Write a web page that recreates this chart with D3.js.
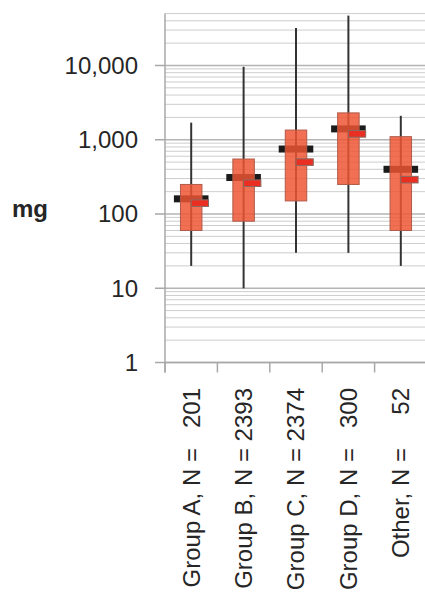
<!DOCTYPE html>
<html>
<head>
<meta charset="utf-8">
<script src="https://cdn.jsdelivr.net/npm/d3@7"></script>
<style>
  html, body { margin: 0; padding: 0; background: #fff; }
  svg { display: block; }
  text { font-family: "Liberation Sans", Arial, sans-serif; fill: #262626; }
</style>
</head>
<body>
<svg id="chart" width="425" height="593"></svg>
<script>
// ---- data ----
const categories = ["Group A", "Group B", "Group C", "Group D", "Other"];
const categoryLabels = ["Group A, N =   201", "Group B, N = 2393", "Group C, N = 2374", "Group D, N =   300", "Other, N =     52"];
const whiskerLow  = [20, 10, 30, 30, 20];
const boxLow      = [60, 80, 150, 250, 60];
const boxHigh     = [250, 550, 1350, 2300, 1100];
const whiskerHigh = [1700, 9600, 32000, 47000, 2100];
const blackMarker = [160, 310, 750, 1400, 400];
const redMarker   = [140, 260, 500, 1200, 290];
const yTickValues = [1, 10, 100, 1000, 10000];
const yTickLabels = ["1", "10", "100", "1,000", "10,000"];
const yAxisTitle = "mg";

// ---- layout ----
const svg = d3.select("#chart");
const plotLeft = 165, plotRight = 427;
const y = d3.scaleLog().domain([1, 50000]).range([362.5, 13.6]);
const x = d3.scaleBand().domain(categories).range([plotLeft, plotRight]).padding(0);
const bw = x.bandwidth();

// gridlines (minor + major)
const gridVals = [];
for (let e = 0; e <= 4; e++) {
  for (let m = 1; m <= 9; m++) {
    const v = m * Math.pow(10, e);
    if (v <= 50000) gridVals.push(v);
  }
}
svg.append("g").selectAll("line").data(gridVals).join("line")
  .attr("x1", plotLeft).attr("x2", plotRight)
  .attr("y1", d => y(d)).attr("y2", d => y(d))
  .attr("stroke", d => yTickValues.includes(d) ? "#b4b4b4" : "#cdcdcd")
  .attr("stroke-width", d => yTickValues.includes(d) ? 1.5 : 1);

// y axis line + major ticks
svg.append("line").attr("x1", plotLeft).attr("x2", plotLeft)
  .attr("y1", y(50000)).attr("y2", y(1) + 10)
  .attr("stroke", "#a8a8a8").attr("stroke-width", 1.5);
svg.append("g").selectAll("line").data(yTickValues).join("line")
  .attr("x1", plotLeft - 10).attr("x2", plotLeft)
  .attr("y1", d => y(d)).attr("y2", d => y(d))
  .attr("stroke", "#a8a8a8").attr("stroke-width", 1.5);
svg.append("g").selectAll("text").data(yTickValues).join("text")
  .attr("x", 138).attr("y", d => y(d)).attr("dy", "0.35em")
  .attr("text-anchor", "end").attr("font-size", 24)
  .text((d, i) => yTickLabels[i]);

// x axis line + ticks
svg.append("line").attr("x1", plotLeft).attr("x2", plotRight)
  .attr("y1", y(1)).attr("y2", y(1))
  .attr("stroke", "#a8a8a8").attr("stroke-width", 1.5);
svg.append("g").selectAll("line").data(categories).join("line")
  .attr("x1", d => x(d)).attr("x2", d => x(d))
  .attr("y1", y(1)).attr("y2", y(1) + 10)
  .attr("stroke", "#a8a8a8").attr("stroke-width", 1.5);

// y axis title
svg.append("text").attr("x", 12).attr("y", 216.5)
  .attr("font-size", 24).attr("font-weight", "bold").text(yAxisTitle);

// ---- boxes ----
const g = svg.append("g").selectAll("g").data(categories).join("g");
const cx = d => x(d) + bw / 2;
// whisker
g.append("line")
  .attr("x1", cx).attr("x2", cx)
  .attr("y1", (d, i) => y(whiskerLow[i])).attr("y2", (d, i) => y(whiskerHigh[i]))
  .attr("stroke", "#333").attr("stroke-width", 2);
// black marker (beneath box)
g.append("rect")
  .attr("x", d => cx(d) - bw * 0.33).attr("width", bw * 0.66)
  .attr("y", (d, i) => y(blackMarker[i]) - 3.5).attr("height", 7)
  .attr("fill", "#1b1b1b");
// box
g.append("rect")
  .attr("x", d => cx(d) - bw * 0.205).attr("width", bw * 0.41)
  .attr("y", (d, i) => y(boxHigh[i]))
  .attr("height", (d, i) => y(boxLow[i]) - y(boxHigh[i]))
  .attr("fill", "#ee5533").attr("fill-opacity", 0.84)
  .attr("stroke", "#b05a48").attr("stroke-width", 1);
// red marker
g.append("rect")
  .attr("x", d => cx(d)).attr("width", bw * 0.33)
  .attr("y", (d, i) => y(redMarker[i]) - 3.3).attr("height", 6.6)
  .attr("fill", "#ea2f22")
  .attr("stroke", "#8a6a62").attr("stroke-width", 1);

// category labels
svg.append("g").selectAll("text").data(categories).join("text")
  .attr("transform", d => `translate(${cx(d)},388) rotate(-90)`)
  .attr("dy", "0.35em")
  .attr("text-anchor", "end").attr("font-size", 24)
  .style("white-space", "pre")
  .text((d, i) => categoryLabels[i]);
</script>
</body>
</html>
